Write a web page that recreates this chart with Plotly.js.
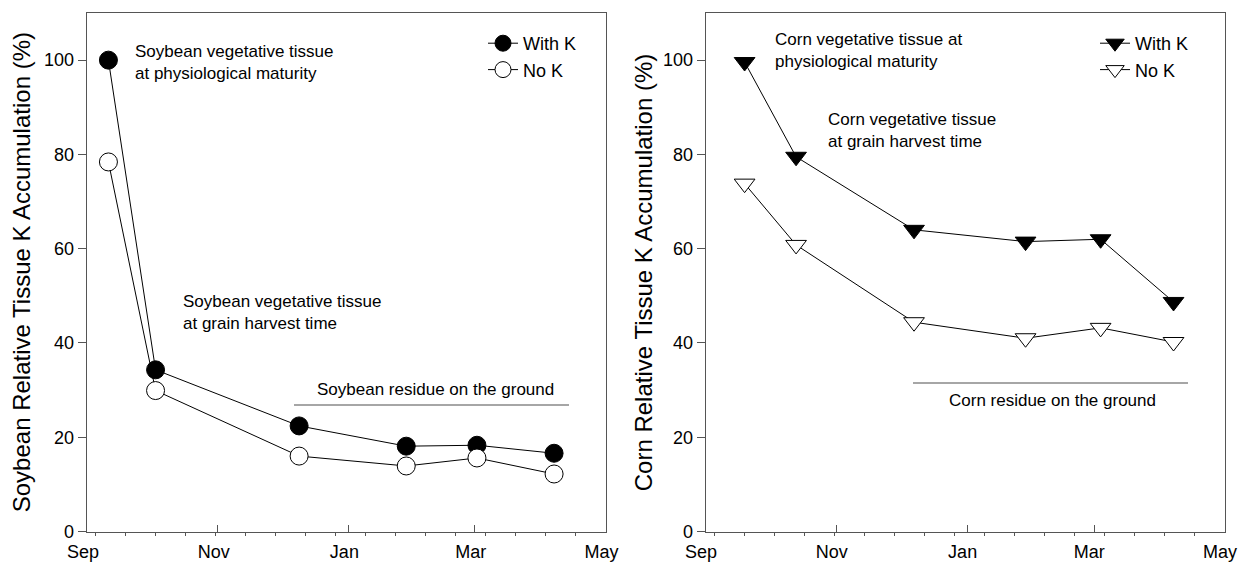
<!DOCTYPE html>
<html>
<head>
<meta charset="utf-8">
<script src="https://cdn.plot.ly/plotly-3.0.1.min.js"></script>
<style>html,body{margin:0;padding:0;background:#fff;}#chart{width:1238px;height:563px;}</style>
</head>
<body>
<div id="chart"></div>
<script>
// ---- data ----
const soyDates = ['2000-09-11', '2000-10-03', '2000-12-09', '2001-01-28', '2001-03-02', '2001-04-07'];
const soyWithK = [100, 34.3, 22.4, 18.1, 18.3, 16.6];
const soyNoK = [78.4, 29.9, 16.0, 13.9, 15.6, 12.2];

const cornDates = ['2000-09-19', '2000-10-13', '2000-12-07', '2001-01-28', '2001-03-04', '2001-04-07'];
const cornWithK = [99.6, 79.5, 64.0, 61.5, 62.0, 48.7];
const cornNoK = [73.8, 60.8, 44.4, 41.0, 43.2, 40.2];

const monthTickVals = ['2000-09-01', '2000-11-01', '2001-01-01', '2001-03-01', '2001-05-01'];
const monthTickText = ['Sep', 'Nov', 'Jan', 'Mar', 'May'];
const yTickVals = [0, 20, 40, 60, 80, 100];
const seriesNames = ['With K', 'No K'];
const yTitles = ['Soybean Relative Tissue K Accumulation (%)', 'Corn Relative Tissue K Accumulation (%)'];

// ---- styling ----
const FONT = 'Liberation Sans, Arial, sans-serif';
const AX = '#555555';
const W = 1238, H = 563;
const px = v => v / W;
const py = v => 1 - v / H;

function lineTrace(x, y, name, symbol, fill, xa, ya, legend, size) {
  return {
    x: x, y: y, name: name, type: 'scatter', mode: 'lines+markers',
    xaxis: xa, yaxis: ya, legend: legend,
    line: {color: '#000', width: 1},
    marker: {symbol: symbol, size: size, color: fill, line: {color: '#000', width: 1}}
  };
}

const traces = [
  lineTrace(soyDates, soyWithK, seriesNames[0], 'circle', '#000', 'x', 'y', 'legend', 18),
  lineTrace(soyDates, soyNoK, seriesNames[1], 'circle', '#fff', 'x', 'y', 'legend', 18),
  lineTrace(cornDates, cornWithK, seriesNames[0], 'triangle-down', '#000', 'x2', 'y2', 'legend2', 18),
  lineTrace(cornDates, cornNoK, seriesNames[1], 'triangle-down', '#fff', 'x2', 'y2', 'legend2', 18)
];

function xAxis(domain, anchor, shift) {
  return {
    type: 'date', domain: domain, anchor: anchor,
    range: ['2000-09-01', '2001-05-01'],
    tickmode: 'array', tickvals: monthTickVals, ticktext: monthTickText,
    ticks: 'inside', ticklen: 7, tickcolor: AX, tickwidth: 1,
    showline: true, linecolor: AX, linewidth: 1.3, mirror: true,
    showgrid: false, zeroline: false,
    tickfont: {family: FONT, size: 18, color: '#000'},
    ticklabelshift: shift, ticklabelstandoff: 4, ticklabeloverflow: 'allow',
    minor: {ticks: 'outside', ticklen: 3, tickcolor: AX, tick0: '2000-09-05', dtick: 14 * 86400000, showgrid: false},
    fixedrange: true
  };
}
function yAxis(domain, anchor) {
  return {
    domain: domain, anchor: anchor, range: [0, 110],
    tickmode: 'array', tickvals: yTickVals,
    ticks: 'outside', ticklen: 8, tickcolor: AX, tickwidth: 1,
    showline: true, linecolor: AX, linewidth: 1.3, mirror: true,
    showgrid: false, zeroline: false,
    tickfont: {family: FONT, size: 18, color: '#000'},
    fixedrange: true
  };
}
function yMirror(overlay, anchor) {
  return {
    overlaying: overlay, side: 'right', anchor: anchor, range: [0, 110],
    tickmode: 'array', tickvals: yTickVals,
    ticks: 'inside', ticklen: 6, tickcolor: AX, tickwidth: 1,
    showticklabels: false, showline: false, showgrid: false, zeroline: false,
    fixedrange: true
  };
}

const yDom = [31.5 / H, (H - 13) / H];
const yMid = (13 + 531.5) / 2;

const textAnns = [
  {text: 'Soybean vegetative tissue<br>at physiological maturity', x: px(133), y: py(62)},
  {text: 'Soybean vegetative tissue<br>at grain harvest time', x: px(181), y: py(312.5)},
  {text: 'Soybean residue on the ground', x: px(435), y: py(389), xanchor: 'center'},
  {text: 'Corn vegetative tissue at<br>physiological maturity', x: px(773), y: py(51)},
  {text: 'Corn vegetative tissue<br>at grain harvest time', x: px(826), y: py(130)},
  {text: 'Corn residue on the ground', x: px(1052), y: py(400), xanchor: 'center'}
].map(a => Object.assign({xref: 'paper', yref: 'paper', xanchor: 'left', yanchor: 'middle',
                          align: a.xanchor === 'center' ? 'center' : 'left', showarrow: false,
                          font: {family: FONT, size: 17, color: '#000'}}, a));

const titleAnns = [
  {text: yTitles[0], x: px(21), y: py(yMid)},
  {text: yTitles[1], x: px(643), y: py(yMid)}
].map(a => Object.assign({xref: 'paper', yref: 'paper', xanchor: 'center', yanchor: 'middle',
                          textangle: -90, showarrow: false,
                          font: {family: FONT, size: 24, color: '#000'}}, a));

const layout = {
  width: W, height: H,
  margin: {l: 0, r: 0, t: 0, b: 0},
  paper_bgcolor: '#fff', plot_bgcolor: '#fff',
  font: {family: FONT, color: '#000'},
  showlegend: true,
  xaxis: xAxis([px(87), px(605.5)], 'y', -4),
  yaxis: yAxis(yDom, 'x'),
  xaxis2: xAxis([px(706), px(1225)], 'y2', -5),
  yaxis2: yAxis(yDom, 'x2'),
  yaxis3: yMirror('y', 'x'),
  yaxis4: yMirror('y2', 'x2'),
  legend: {x: px(483), y: py(25), xanchor: 'left', yanchor: 'top', bgcolor: 'rgba(0,0,0,0)',
           font: {family: FONT, size: 18, color: '#000'}, tracegroupgap: 0},
  legend2: {x: px(1095), y: py(25), xanchor: 'left', yanchor: 'top', bgcolor: 'rgba(0,0,0,0)',
            font: {family: FONT, size: 18, color: '#000'}, tracegroupgap: 0},
  annotations: textAnns.concat(titleAnns),
  shapes: [
    {type: 'line', xref: 'paper', yref: 'paper', x0: px(294), x1: px(569), y0: py(405), y1: py(405),
     line: {color: '#888', width: 1.5}},
    {type: 'line', xref: 'paper', yref: 'paper', x0: px(913), x1: px(1188), y0: py(383), y1: py(383),
     line: {color: '#888', width: 1.5}}
  ]
};

Plotly.newPlot('chart', traces, layout, {displayModeBar: false, staticPlot: true});
</script>
</body>
</html>
